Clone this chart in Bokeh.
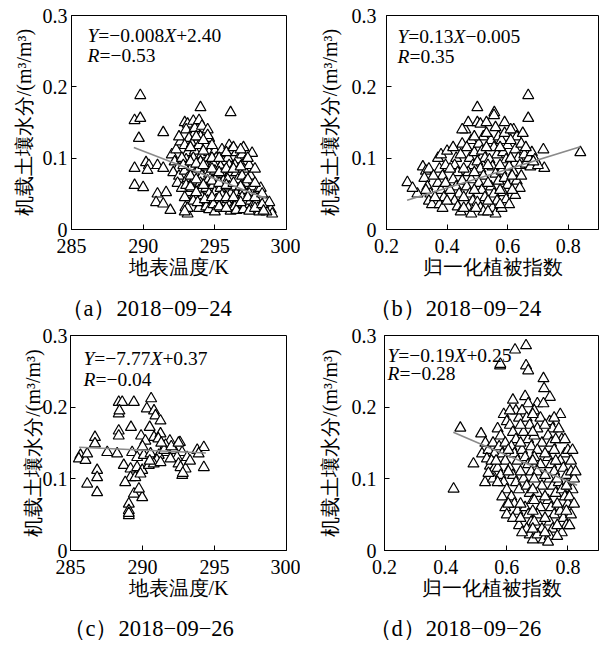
from bokeh.plotting import figure
from bokeh.layouts import column, row
from bokeh.models import Label, FixedTicker
from bokeh.embed import file_html
from bokeh.resources import INLINE

# ---------------- data ----------------
a_pts = [
    (289.8, 0.188), (289.4, 0.153), (289.8, 0.156), (289.7, 0.128), (289.4, 0.086),
    (289.4, 0.062), (290.0, 0.059), (290.2, 0.094), (290.4, 0.090), (290.3, 0.083),
    (291.0, 0.090), (291.4, 0.086), (291.4, 0.136), (294.0, 0.171), (296.1, 0.164),
    (291.0, 0.050), (291.6, 0.052), (290.9, 0.038), (291.4, 0.036), (291.9, 0.027),
    (292.95, 0.031), (293.1, 0.022),
    (292.0, 0.105), (292.2, 0.095), (292.4, 0.085), (292.1, 0.080), (292.5, 0.075),
    (292.3, 0.112), (292.6, 0.123), (292.4, 0.065), (292.7, 0.058), (292.5, 0.130),
    (292.9, 0.150), (293.1, 0.148), (293.0, 0.140), (293.2, 0.128), (292.9, 0.118),
    (293.1, 0.108), (293.0, 0.098), (293.2, 0.090), (292.9, 0.082), (293.1, 0.072),
    (293.0, 0.062), (293.2, 0.052), (292.9, 0.045), (293.1, 0.030), (292.9, 0.025),
    (293.5, 0.152), (293.6, 0.142), (293.4, 0.120), (293.6, 0.110), (293.5, 0.100),
    (293.4, 0.088), (293.6, 0.078), (293.5, 0.068), (293.4, 0.058), (293.6, 0.048),
    (293.5, 0.040),
    (293.9, 0.153), (294.1, 0.145), (294.0, 0.130), (293.9, 0.118), (294.1, 0.105),
    (294.0, 0.095), (293.9, 0.085), (294.1, 0.075), (294.0, 0.065), (293.9, 0.055),
    (294.1, 0.045), (294.0, 0.035), (293.9, 0.030),
    (294.5, 0.140), (294.6, 0.128), (294.4, 0.118), (294.6, 0.108), (294.5, 0.098),
    (294.4, 0.088), (294.6, 0.078), (294.5, 0.068), (294.4, 0.058), (294.6, 0.050),
    (294.5, 0.040), (294.4, 0.032), (294.6, 0.028), (294.5, 0.132),
    (295.0, 0.110), (295.1, 0.100), (294.9, 0.092), (295.0, 0.082), (295.1, 0.072),
    (294.9, 0.062), (295.0, 0.052), (295.1, 0.042), (294.9, 0.035), (295.0, 0.025),
    (295.5, 0.105), (295.6, 0.095), (295.4, 0.088), (295.5, 0.078), (295.6, 0.068),
    (295.4, 0.058), (295.5, 0.048), (295.6, 0.038), (295.4, 0.030), (295.5, 0.112),
    (296.0, 0.118), (296.1, 0.110), (295.9, 0.100), (296.0, 0.090), (296.1, 0.080),
    (295.9, 0.070), (296.0, 0.060), (296.1, 0.050), (295.9, 0.042), (296.0, 0.033),
    (296.1, 0.026),
    (296.5, 0.108), (296.6, 0.098), (296.4, 0.090), (296.5, 0.080), (296.6, 0.070),
    (296.4, 0.060), (296.5, 0.050), (296.6, 0.040), (296.4, 0.032), (296.5, 0.027),
    (297.0, 0.115), (296.9, 0.105), (297.1, 0.095), (297.0, 0.085), (296.9, 0.075),
    (297.1, 0.065), (297.0, 0.055), (296.9, 0.045), (297.1, 0.035), (297.0, 0.028),
    (297.6, 0.107), (297.4, 0.090), (297.5, 0.075), (297.6, 0.060), (297.4, 0.050),
    (297.5, 0.040), (297.6, 0.032), (297.4, 0.026),
    (298.0, 0.055), (298.1, 0.045), (297.9, 0.038), (298.0, 0.030), (298.2, 0.058),
    (298.1, 0.025),
    (298.5, 0.040), (298.7, 0.033), (298.9, 0.028), (299.0, 0.022), (298.6, 0.025),
    (298.8, 0.038),
    (292.7, 0.100), (292.8, 0.090), (293.3, 0.115), (293.3, 0.095), (293.3, 0.075),
    (293.3, 0.060), (293.7, 0.130), (293.7, 0.092), (293.7, 0.070), (293.7, 0.052),
    (293.8, 0.038), (294.2, 0.125), (294.2, 0.110), (294.2, 0.090), (294.2, 0.062),
    (294.3, 0.042), (294.8, 0.118), (294.8, 0.100), (294.8, 0.085), (294.8, 0.068),
    (294.8, 0.045), (295.3, 0.100), (295.3, 0.080), (295.3, 0.065), (295.3, 0.045),
    (295.3, 0.032), (295.8, 0.108), (295.8, 0.085), (295.8, 0.062), (295.8, 0.045),
    (295.8, 0.030), (296.3, 0.115), (296.3, 0.085), (296.3, 0.065), (296.3, 0.045),
    (296.8, 0.112), (296.8, 0.088), (296.8, 0.060), (296.8, 0.038), (297.3, 0.100),
    (297.3, 0.070), (297.3, 0.045), (297.8, 0.085), (297.8, 0.065), (297.8, 0.045),
    (297.8, 0.030), (298.3, 0.050), (298.3, 0.035), (298.4, 0.026),
]
a_fit_x = [289.35, 298.65]
a_fit_y = [0.115, 0.043]

b_pts = [
    (0.668, 0.188), (0.668, 0.156), (0.500, 0.171), (0.556, 0.164), (0.840, 0.108),
    (0.718, 0.112), (0.721, 0.086), (0.269, 0.066), (0.302, 0.050), (0.286, 0.058),
    (0.320, 0.088), (0.330, 0.082), (0.325, 0.072), (0.340, 0.085), (0.335, 0.060),
    (0.345, 0.050), (0.340, 0.040), (0.350, 0.035), (0.330, 0.055),
    (0.370, 0.100), (0.380, 0.105), (0.375, 0.085), (0.385, 0.075), (0.370, 0.065),
    (0.380, 0.055), (0.390, 0.045), (0.375, 0.035), (0.385, 0.030), (0.395, 0.090),
    (0.400, 0.110),
    (0.420, 0.115), (0.430, 0.100), (0.425, 0.090), (0.435, 0.080), (0.420, 0.070),
    (0.430, 0.060), (0.440, 0.050), (0.425, 0.040), (0.435, 0.032), (0.445, 0.025),
    (0.450, 0.120), (0.445, 0.105), (0.450, 0.068),
    (0.460, 0.140), (0.470, 0.150), (0.480, 0.125), (0.465, 0.115), (0.475, 0.100),
    (0.485, 0.090), (0.470, 0.080), (0.480, 0.070), (0.465, 0.060), (0.475, 0.050),
    (0.485, 0.040), (0.470, 0.030), (0.480, 0.022), (0.490, 0.108),
    (0.500, 0.150), (0.510, 0.148), (0.520, 0.130), (0.505, 0.120), (0.515, 0.110),
    (0.525, 0.100), (0.500, 0.095), (0.510, 0.085), (0.520, 0.075), (0.505, 0.065),
    (0.515, 0.055), (0.525, 0.045), (0.500, 0.038), (0.510, 0.030), (0.520, 0.025),
    (0.530, 0.150),
    (0.555, 0.160), (0.560, 0.143), (0.545, 0.125), (0.555, 0.115), (0.565, 0.105),
    (0.540, 0.098), (0.550, 0.088), (0.560, 0.078), (0.570, 0.068), (0.545, 0.060),
    (0.555, 0.050), (0.565, 0.040), (0.550, 0.030), (0.560, 0.022), (0.570, 0.130),
    (0.580, 0.125), (0.590, 0.135), (0.600, 0.118), (0.585, 0.108), (0.595, 0.098),
    (0.605, 0.088), (0.580, 0.082), (0.590, 0.072), (0.600, 0.062), (0.585, 0.052),
    (0.595, 0.042), (0.605, 0.035), (0.580, 0.030),
    (0.620, 0.140), (0.630, 0.130), (0.625, 0.112), (0.635, 0.100), (0.640, 0.090),
    (0.620, 0.080), (0.630, 0.068), (0.640, 0.058), (0.625, 0.048), (0.650, 0.135),
    (0.655, 0.105), (0.660, 0.092),
    (0.670, 0.100), (0.680, 0.108), (0.690, 0.098), (0.675, 0.088), (0.700, 0.090),
    (0.355, 0.075), (0.360, 0.045), (0.395, 0.065), (0.400, 0.040), (0.410, 0.085),
    (0.410, 0.055), (0.455, 0.085), (0.455, 0.045), (0.455, 0.030), (0.490, 0.130),
    (0.490, 0.080), (0.490, 0.055), (0.495, 0.030), (0.530, 0.115), (0.535, 0.090),
    (0.535, 0.065), (0.535, 0.040), (0.535, 0.025), (0.575, 0.115), (0.575, 0.090),
    (0.575, 0.055), (0.575, 0.035), (0.610, 0.125), (0.610, 0.100), (0.615, 0.075),
    (0.615, 0.055), (0.645, 0.120), (0.645, 0.075), (0.660, 0.115), (0.685, 0.095),
    (0.450, 0.140), (0.530, 0.135), (0.590, 0.150), (0.610, 0.140),
]
b_fit_x = [0.268, 0.840]
b_fit_y = [0.041, 0.116]

c_pts = [
    (288.35, 0.207), (288.59, 0.207), (289.4, 0.207), (290.6, 0.212),
    (288.35, 0.191), (288.4, 0.195), (290.3, 0.198), (290.8, 0.195), (290.9, 0.188),
    (291.25, 0.181), (289.2, 0.172), (288.35, 0.167), (288.35, 0.160), (286.7, 0.158),
    (286.7, 0.149), (290.5, 0.172), (289.9, 0.160), (290.2, 0.153), (290.8, 0.158),
    (291.25, 0.163), (291.1, 0.156), (291.9, 0.153), (292.6, 0.151), (291.6, 0.147),
    (285.69, 0.133), (285.58, 0.128), (286.04, 0.126), (286.16, 0.135), (287.55, 0.137),
    (288.24, 0.135), (289.28, 0.137), (289.63, 0.130), (290.09, 0.133), (290.56, 0.135),
    (291.13, 0.133), (291.7, 0.137), (292.2, 0.140), (292.75, 0.137), (293.1, 0.130),
    (293.8, 0.140), (294.26, 0.144), (293.9, 0.135), (292.4, 0.130), (291.94, 0.128),
    (291.0, 0.126),
    (288.7, 0.119), (289.17, 0.114), (289.63, 0.116), (289.98, 0.112), (290.44, 0.119),
    (290.78, 0.121), (291.25, 0.123), (292.5, 0.121), (292.64, 0.116), (292.99, 0.114),
    (294.26, 0.116), (292.76, 0.105), (289.17, 0.102), (288.8, 0.095), (289.5, 0.102),
    (289.86, 0.107), (286.85, 0.112), (286.85, 0.102), (286.16, 0.093), (286.85, 0.081),
    (289.4, 0.079), (289.98, 0.074), (289.75, 0.086), (289.05, 0.065), (289.05, 0.056),
    (289.05, 0.049), (289.05, 0.052),
    (290.5, 0.125), (291.5, 0.140), (292.0, 0.145), (292.5, 0.150), (293.3, 0.125),
    (292.8, 0.108), (290.0, 0.145), (291.3, 0.150),
]
c_fit_x = [285.6, 294.4]
c_fit_y = [0.144, 0.136]

d_pts = [
    (0.627, 0.280), (0.663, 0.286), (0.578, 0.258), (0.579, 0.260), (0.663, 0.258),
    (0.670, 0.251), (0.720, 0.240), (0.722, 0.226), (0.741, 0.214), (0.448, 0.171),
    (0.426, 0.086), (0.516, 0.163), (0.491, 0.121), (0.529, 0.095), (0.519, 0.135),
    (0.530, 0.150), (0.540, 0.140), (0.535, 0.128), (0.545, 0.118), (0.550, 0.108),
    (0.555, 0.150), (0.560, 0.135), (0.550, 0.125), (0.560, 0.115), (0.555, 0.100),
    (0.540, 0.108),
    (0.570, 0.170), (0.580, 0.160), (0.590, 0.190), (0.575, 0.145), (0.585, 0.135),
    (0.595, 0.125), (0.570, 0.115), (0.580, 0.105), (0.590, 0.095), (0.600, 0.085),
    (0.585, 0.075), (0.595, 0.060), (0.600, 0.050), (0.600, 0.180), (0.595, 0.150),
    (0.620, 0.210), (0.630, 0.195), (0.610, 0.175), (0.620, 0.165), (0.630, 0.155),
    (0.615, 0.145), (0.625, 0.135), (0.635, 0.125), (0.610, 0.115), (0.620, 0.105),
    (0.630, 0.095), (0.640, 0.085), (0.615, 0.075), (0.625, 0.065), (0.635, 0.055),
    (0.620, 0.045), (0.640, 0.035), (0.640, 0.185),
    (0.660, 0.215), (0.670, 0.205), (0.650, 0.195), (0.665, 0.185), (0.675, 0.175),
    (0.655, 0.165), (0.670, 0.155), (0.680, 0.145), (0.650, 0.140), (0.660, 0.130),
    (0.670, 0.120), (0.680, 0.110), (0.655, 0.100), (0.665, 0.090), (0.675, 0.080),
    (0.685, 0.070), (0.660, 0.060), (0.670, 0.050), (0.680, 0.040), (0.665, 0.030),
    (0.675, 0.022), (0.685, 0.015),
    (0.700, 0.205), (0.690, 0.195), (0.710, 0.185), (0.700, 0.170), (0.690, 0.160),
    (0.715, 0.150), (0.700, 0.140), (0.690, 0.130), (0.710, 0.120), (0.700, 0.110),
    (0.690, 0.100), (0.715, 0.090), (0.700, 0.080), (0.690, 0.070), (0.710, 0.060),
    (0.700, 0.050), (0.690, 0.040), (0.715, 0.030), (0.700, 0.022), (0.720, 0.015),
    (0.720, 0.205),
    (0.740, 0.180), (0.750, 0.170), (0.735, 0.160), (0.745, 0.150), (0.755, 0.140),
    (0.735, 0.130), (0.745, 0.120), (0.755, 0.110), (0.740, 0.100), (0.750, 0.090),
    (0.760, 0.080), (0.735, 0.070), (0.745, 0.060), (0.755, 0.050), (0.740, 0.040),
    (0.750, 0.030), (0.740, 0.020), (0.735, 0.012),
    (0.775, 0.190), (0.770, 0.170), (0.780, 0.155), (0.790, 0.135), (0.775, 0.125),
    (0.785, 0.115), (0.795, 0.105), (0.770, 0.095), (0.780, 0.085), (0.790, 0.075),
    (0.800, 0.065), (0.775, 0.055), (0.785, 0.045), (0.795, 0.035), (0.780, 0.025),
    (0.800, 0.140), (0.800, 0.090),
    (0.815, 0.140), (0.810, 0.110), (0.820, 0.100), (0.825, 0.110), (0.815, 0.085),
    (0.805, 0.075), (0.810, 0.050), (0.805, 0.035),
    (0.565, 0.125), (0.570, 0.095), (0.605, 0.140), (0.605, 0.110), (0.605, 0.065),
    (0.610, 0.195), (0.645, 0.175), (0.645, 0.150), (0.645, 0.110), (0.645, 0.065),
    (0.645, 0.045), (0.650, 0.025), (0.685, 0.190), (0.685, 0.165), (0.685, 0.125),
    (0.685, 0.085), (0.685, 0.055), (0.685, 0.030), (0.725, 0.175), (0.725, 0.135),
    (0.725, 0.105), (0.725, 0.075), (0.725, 0.045), (0.725, 0.025), (0.760, 0.155),
    (0.760, 0.125), (0.765, 0.100), (0.765, 0.065), (0.765, 0.035), (0.765, 0.020),
    (0.790, 0.155), (0.795, 0.090), (0.795, 0.055), (0.810, 0.125), (0.820, 0.065),
    (0.755, 0.185),
]
d_fit_x = [0.425, 0.830]
d_fit_y = [0.165, 0.091]

y_ticks = [0, 0.1, 0.2, 0.3]
lst_ticks = [285, 290, 295, 300]
ndvi_ticks = [0.2, 0.4, 0.6, 0.8]

y_title = "机载土壤水分/(m³/m³)"
lst_title = "地表温度/K"
ndvi_title = "归一化植被指数"

eq_a = [[("Y", 1), ("=−0.008", 0), ("X", 1), ("+2.40", 0)], [("R", 1), ("=−0.53", 0)]]
eq_b = [[("Y", 1), ("=0.13", 0), ("X", 1), ("−0.005", 0)], [("R", 1), ("=0.35", 0)]]
eq_c = [[("Y", 1), ("=−7.77", 0), ("X", 1), ("+0.37", 0)], [("R", 1), ("=−0.04", 0)]]
eq_d = [[("Y", 1), ("=−0.19", 0), ("X", 1), ("+0.25", 0)], [("R", 1), ("=−0.28", 0)]]

captions_top = ["（a）2018−09−24", "（b）2018−09−24"]
captions_bottom = ["（c）2018−09−26", "（d）2018−09−26"]

# ---------------- styling ----------------
SERIF = "Liberation Serif"
EQ_SIZE = 19.5
W_NORM = {"=": 0.564, "−": 0.564, "+": 0.564, ".": 0.25}
W_ITAL = {"Y": 0.556, "X": 0.611, "R": 0.611}


def seg_w(s, ital):
    if ital:
        return sum(W_ITAL.get(c, 0.6) for c in s) * EQ_SIZE
    return sum(W_NORM.get(c, 0.5) for c in s) * EQ_SIZE


def panel(pts, fx, fy, xr, xticks, xtitle, width, height, bl, br, bb,
          eq, eq_dx, eq_dy, zero_label, tick_sd, lab_sd):
    p = figure(width=width, height=height, x_range=xr, y_range=(0, 0.3),
               output_backend="svg", toolbar_location=None,
               min_border_left=bl, min_border_right=br, min_border_top=15,
               min_border_bottom=bb)
    p.grid.visible = False
    p.outline_line_color = "black"
    p.outline_line_width = 1
    p.background_fill_color = "white"
    p.border_fill_color = "white"

    fw = width - bl - br
    fh = height - 15 - bb
    xs = [q[0] for q in pts]
    ys = [q[1] for q in pts]
    p.scatter(xs, ys, marker="triangle", size=11, fill_color="white",
              line_color="black", line_width=1.2)
    p.line(fx, fy, line_color="#8a8a8a", line_width=1.6)

    p.xaxis.ticker = FixedTicker(ticks=xticks)
    p.yaxis.ticker = FixedTicker(ticks=y_ticks)
    if zero_label:
        p.yaxis.major_label_overrides = {0: "0"}
    for ax in (p.xaxis[0], p.yaxis[0]):
        ax.major_tick_in = 5
        ax.major_tick_out = 0
        ax.minor_tick_in = 0
        ax.minor_tick_out = 0
        ax.axis_line_color = "black"
        ax.major_tick_line_color = "black"
        ax.major_label_text_font = SERIF
        ax.major_label_text_font_size = "20px"
        ax.major_label_text_color = "black"
        ax.axis_label_text_font = SERIF
        ax.axis_label_text_font_size = "20px"
        ax.axis_label_text_font_style = "normal"
        ax.axis_label_text_color = "black"
    p.xaxis.axis_label = xtitle
    p.yaxis.axis_label = y_title
    p.xaxis.major_label_standoff = 9
    p.xaxis.axis_label_standoff = 0
    p.yaxis.major_label_standoff = tick_sd
    p.yaxis.axis_label_standoff = lab_sd

    x0, x1 = xr
    ppx = (x1 - x0) / fw
    ppy = 0.3 / fh
    for i, line in enumerate(eq):
        off = 0.0
        ybase = 0.3 - eq_dy[i] * ppy
        for txt, ital in line:
            p.add_layout(Label(x=x0 + eq_dx * ppx, y=ybase, x_offset=off, text=txt,
                               text_font=SERIF,
                               text_font_style="italic" if ital else "normal",
                               text_font_size=f"{EQ_SIZE}px", text_color="black",
                               text_baseline="alphabetic", text_align="left"))
            off += seg_w(txt, ital)
    return p


def caption_strip(texts, lefts):
    s = figure(width=599, height=24, x_range=(0, 599), y_range=(0, 24),
               output_backend="svg", toolbar_location=None,
               x_axis_location=None, y_axis_location=None,
               min_border=0, min_border_left=0, min_border_right=0,
               min_border_top=0, min_border_bottom=0)
    s.grid.visible = False
    s.outline_line_color = None
    s.background_fill_color = "white"
    s.border_fill_color = "white"
    for t, lx in zip(texts, lefts):
        s.add_layout(Label(x=lx, y=12, text=t, text_font=SERIF,
                           text_font_size="22.5px", text_color="black",
                           text_align="left", text_baseline="middle"))
    return s


pa = panel(a_pts, a_fit_x, a_fit_y, (285, 300), lst_ticks, lst_title,
           300, 296, 71, 14, 67, eq_a, 16, [20, 40], True, 4, 5)
pb = panel(b_pts, b_fit_x, b_fit_y, (0.2, 0.9), ndvi_ticks, ndvi_title,
           299, 296, 86, 1, 67, eq_b, 11, [21, 41], True, 10, 8)
pc = panel(c_pts, c_fit_x, c_fit_y, (285, 300), lst_ticks, lst_title,
           300, 296, 70, 14, 66, eq_c, 13, [23, 44], False, 3, -4)
pd = panel(d_pts, d_fit_x, d_fit_y, (0.2, 0.9), ndvi_ticks, ndvi_title,
           299, 296, 84, 1, 66, eq_d, 3, [20, 38], True, 8, 8)

cap1 = caption_strip(captions_top, [60, 368])
cap2 = caption_strip(captions_bottom, [62, 368])

layout = column(row(pa, pb, spacing=0), cap1, row(pc, pd, spacing=0), cap2, spacing=0)

with open("out.html", "w") as f:
    f.write(file_html(layout, INLINE))
